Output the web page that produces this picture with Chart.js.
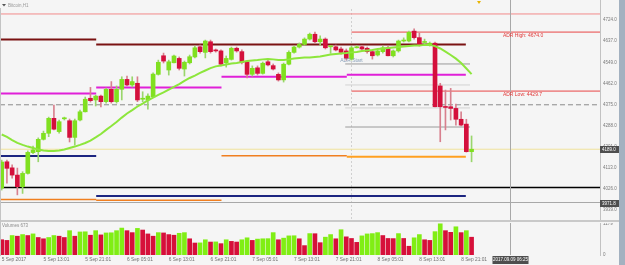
<!DOCTYPE html>
<html>
<head>
<meta charset="utf-8">
<title>Bitcoin,H1</title>
<script src="https://cdn.jsdelivr.net/npm/chart.js@4.4.1/dist/chart.umd.min.js"></script>
<style>
  html, body { margin: 0; padding: 0; background: #f5f5f5; }
  #wrap { position: relative; width: 625px; height: 265px; overflow: hidden; background: #f5f5f5; }
  #main { position: absolute; left: 0; top: 0; }
  #vol { position: absolute; left: 0; top: 223px; }
  #sep { position: absolute; left: 0; top: 220px; width: 619px; height: 2px; background: #c9c9c9; }
  #edge { position: absolute; left: 0; top: 8px; width: 1px; height: 248px; background: #c4c4c4; }
  #scroll { position: absolute; right: 0; top: 0; width: 6px; height: 265px; background: #a3b1c0; }
</style>
</head>
<body>
<div id="wrap">
  <canvas id="main" width="625" height="221"></canvas>
  <div id="sep"></div>
  <canvas id="vol" width="625" height="42"></canvas>
  <div id="edge"></div>
  <div id="scroll"></div>
</div>
<script>
// hourly candles, index 0 = 5 Sep 05:00
const opens = [4028,4137,4112,4082,4034,4089,4175,4179,4230,4255,
  4317,4262,4315,4307,4238,4310,4344,4400,4393,4409,
  4386,4437,4386,4437,4478,4455,4462,4396,4393,4406,
  4499,4576,4517,4547,4565,4521,4547,4571,4613,4590,
  4634,4600,4596,4547,4561,4607,4593,4551,4499,4526,
  4503,4551,4535,4499,4476,4541,4590,4612,4623,4645,
  4665,4634,4645,4613,4613,4604,4596,4562,4609,4613,
  4607,4593,4579,4593,4609,4576,4596,4637,4637,4678,
  4651,4631,4620,4628,4451,4366,4365,4358,4313,4293,
  4179];
const highs = [4144,4144,4124,4111,4096,4182,4202,4236,4264,4322,
  4372,4310,4322,4314,4314,4351,4405,4445,4413,4413,
  4442,4469,4451,4489,4492,4489,4489,4427,4418,4505,
  4558,4587,4558,4579,4571,4554,4579,4616,4620,4641,
  4641,4604,4600,4575,4612,4612,4600,4554,4534,4534,
  4550,4558,4542,4505,4546,4596,4616,4629,4650,4670,
  4674,4658,4650,4618,4620,4612,4604,4616,4618,4618,
  4612,4600,4600,4616,4616,4600,4641,4650,4678,4687,
  4670,4645,4633,4633,4462,4434,4441,4376,4344,4313,
  4244];
const lows = [4020,4049,4069,4000,4006,4086,4171,4137,4227,4241,
  4269,4256,4310,4219,4206,4306,4343,4384,4368,4364,
  4380,4380,4380,4393,4451,4447,4386,4386,4355,4405,
  4496,4546,4496,4546,4517,4492,4542,4567,4587,4567,
  4587,4591,4534,4529,4558,4591,4542,4484,4492,4496,
  4500,4534,4517,4471,4467,4538,4587,4608,4620,4641,
  4629,4620,4604,4586,4596,4583,4558,4558,4608,4600,
  4587,4562,4575,4587,4575,4571,4591,4633,4633,4645,
  4616,4625,4616,4364,4220,4269,4310,4289,4285,4177,
  4137];
const closes = [4136,4110,4082,4034,4089,4176,4186,4230,4255,4317,
  4272,4303,4317,4238,4307,4344,4396,4390,4409,4386,
  4437,4386,4437,4478,4455,4469,4393,4400,4409,4500,
  4549,4554,4551,4575,4524,4549,4572,4609,4593,4637,
  4593,4596,4541,4565,4607,4596,4549,4499,4524,4503,
  4545,4538,4521,4476,4541,4590,4612,4623,4645,4665,
  4634,4645,4609,4615,4600,4590,4565,4609,4613,4604,
  4593,4576,4596,4609,4576,4596,4637,4641,4673,4651,
  4620,4634,4628,4365,4365,4362,4358,4313,4289,4179,
  4189];
const volumes = [578,552,736,711,773,736,798,662,613,662,
  736,711,662,920,711,871,878,748,920,760,
  834,840,920,1018,920,846,1006,944,797,711,
  846,834,772,748,821,846,613,453,458,576,
  490,495,429,576,515,490,576,650,552,601,
  613,618,846,576,637,723,728,613,355,809,
  805,466,674,772,613,956,687,625,478,723,
  797,809,846,736,625,620,809,625,331,650,
  772,576,552,883,1179,920,858,1067,846,920,
  673];
const maLine = [4250,4240,4227,4215,4207,4200,4194,4188,4184,4182,
  4182,4184,4188,4194,4200,4207,4215,4225,4238,4252,
  4269,4285,4302,4320,4337,4351,4366,4378,4391,4403,
  4414,4424,4436,4447,4459,4472,4484,4494,4505,4515,
  4525,4532,4536,4540,4544,4546,4550,4554,4556,4558,
  4561,4563,4561,4558,4558,4561,4565,4567,4569,4569,
  4571,4573,4577,4581,4583,4585,4587,4590,4592,4596,
  4598,4600,4604,4606,4608,4610,4612,4614,4616,4618,
  4618,4621,4621,4616,4606,4593,4579,4564,4546,4523,
  4500];

const timeTicks = [0, 8, 16, 24, 32, 40, 48, 56, 64, 72, 80, 88];
const timeLabels = ['5 Sep 2017', '5 Sep 13:01', '5 Sep 21:01', '6 Sep 05:01', '6 Sep 13:01', '6 Sep 21:01',
  '7 Sep 05:01', '7 Sep 13:01', '7 Sep 21:01', '8 Sep 05:01', '8 Sep 13:01', '8 Sep 21:01'];
const priceTicks = [4724, 4637, 4549, 4462, 4375, 4288, 4201, 4113, 4026, 3939];

// level lines: [from index, to index, price]
const topLine = [[-0.33, 114.6, 4749]];
const pivotTop = [[-0.33, 18.1, 4643], [18.1, 88.9, 4623]];
const pivotMid = [[-0.33, 18.1, 4420], [18.1, 42.1, 4445], [42.1, 66.1, 4489], [66.1, 88.9, 4497]];
const pivotLow = [[-0.33, 18.1, 4161], [18.1, 88.9, 3995]];
const pivotOrange = [[-0.33, 18.1, 3981], [18.1, 42.1, 3978], [42.1, 66.1, 4162]];
const pivotOrangeNow = [[66.1, 88.9, 4158]];
const blackLine = [[-0.33, 114.6, 4031]];
const dashLine = [[-0.33, 114.6, 4373]];
const adrHigh = 4674.0;
const adrLow = 4429.7;
const adrStart = 67;
const adrGray = [[65.8, 89.7, 4542], [65.8, 89.7, 4281]];
const adrLight = [[65.8, 89.7, 4455], [65.8, 89.7, 4360]];

const cursorIdx = 97.4;
const cursorPrice = 3971.8;
const cursorTime = '2017.09.09 06:25';

const lastClose = closes[closes.length - 1];
const xMin = -0.326, xMax = 114.6;

Chart.defaults.animation = false;
Chart.defaults.font.family = '"Liberation Sans", Arial, sans-serif';

const GREEN = '#80e020', RED = '#d4103c';

function levelData(segs) {
  const pts = [];
  segs.forEach(([a, b, p]) => {
    pts.push({x: a, y: p}, {x: b, y: p}, {x: b, y: null});
  });
  return pts;
}
function level(segs, color, width, dash) {
  return {
    type: 'line', data: levelData(segs), borderColor: color, borderWidth: width,
    borderDash: dash || [], pointRadius: 0, spanGaps: false, fill: false, order: 5
  };
}
function noPad(scale) {
  scale.paddingTop = 0; scale.paddingBottom = 0;
  scale.paddingLeft = 0; scale.paddingRight = 0;
}
function tag(ctx, left, yy, text, w) {
  ctx.fillStyle = '#4e4e4e';
  ctx.fillRect(left, Math.round(yy) - 3, w, 7);
  ctx.fillStyle = '#ffffff';
  ctx.font = '4.5px "Liberation Sans"';
  ctx.textAlign = 'left';
  ctx.textBaseline = 'middle';
  ctx.fillText(text, left + 2, Math.round(yy) + 0.5);
}

const up = closes.map((c, i) => c >= opens[i]);

const mainDeco = {
  id: 'mainDeco',
  beforeDatasetsDraw(chart) {
    const {ctx, chartArea: a, scales: {x}} = chart;
    const px = Math.round(x.getPixelForValue(adrStart)) + 0.5;
    ctx.save();
    ctx.strokeStyle = '#d0d0d0';
    ctx.lineWidth = 1;
    ctx.setLineDash([2, 2]);
    ctx.beginPath();
    ctx.moveTo(px, a.top + 9);
    ctx.lineTo(px, a.bottom);
    ctx.stroke();
    ctx.restore();
  },
  afterDatasetsDraw(chart) {
    const {ctx, chartArea: a, scales: {x, y}} = chart;
    ctx.save();
    // crosshair
    const cx = Math.round(x.getPixelForValue(cursorIdx)) + 0.5;
    const cy = Math.round(y.getPixelForValue(cursorPrice)) + 0.5;
    ctx.strokeStyle = '#a8a8a8';
    ctx.lineWidth = 1;
    ctx.beginPath();
    ctx.moveTo(cx, a.top); ctx.lineTo(cx, a.bottom);
    ctx.moveTo(a.left, cy); ctx.lineTo(a.right, cy);
    ctx.stroke();

    // ADR texts
    ctx.font = '5px "Liberation Sans"';
    ctx.textAlign = 'left';
    ctx.textBaseline = 'top';
    ctx.fillStyle = '#e03838';
    ctx.fillText('ADR High: ' + adrHigh.toFixed(1), x.getPixelForValue(96), y.getPixelForValue(adrHigh) + 1);
    ctx.fillText('ADR Low: ' + adrLow.toFixed(1), x.getPixelForValue(96), y.getPixelForValue(adrLow) + 1.5);
    ctx.fillStyle = '#8aa2bb';
    ctx.textAlign = 'center';
    ctx.textBaseline = 'bottom';
    ctx.fillText('ADR Start', x.getPixelForValue(adrStart), y.getPixelForValue(adrGray[0][2]) - 0.5);

    // symbol header
    ctx.fillStyle = '#555';
    ctx.beginPath();
    ctx.moveTo(2, 4); ctx.lineTo(6, 4); ctx.lineTo(4, 6.5); ctx.closePath(); ctx.fill();
    ctx.fillStyle = '#9a9a9a';
    ctx.font = '4.5px "Liberation Sans"';
    ctx.textAlign = 'left';
    ctx.textBaseline = 'middle';
    ctx.fillText('Bitcoin,H1', 8, 5.5);
    ctx.fillStyle = '#e8b400';
    ctx.beginPath();
    ctx.moveTo(477, 1); ctx.lineTo(481, 1); ctx.lineTo(479, 4); ctx.closePath(); ctx.fill();

    // price tags on the axis
    tag(ctx, a.right, y.getPixelForValue(lastClose), lastClose.toFixed(1), 19);
    tag(ctx, a.right, cy, cursorPrice.toFixed(1), 19);
    ctx.restore();
  }
};

new Chart(document.getElementById('main'), {
  type: 'bar',
  data: {
    datasets: [
      {
        type: 'line', data: maLine.map((v, i) => ({x: i, y: v})),
        borderColor: '#8de63c', borderWidth: 2, pointRadius: 0, fill: false, order: 0
      },
      {
        data: opens.map((o, i) => ({x: i, y: [Math.min(o, closes[i]), Math.max(o, closes[i])]})),
        backgroundColor: up.map(u => u ? GREEN : RED),
        barThickness: 4, minBarLength: 1, grouped: false, order: 1
      },
      {
        data: highs.map((h, i) => ({x: i, y: [lows[i], h]})),
        backgroundColor: up.map(u => u ? '#9ad66c' : '#d8808e'),
        barThickness: 1, grouped: false, order: 2
      },
      level(topLine, '#f28a8a', 1),
      level(pivotTop, '#7a1212', 2),
      level(pivotMid, '#e020d8', 2),
      level(pivotLow, '#1c2580', 2),
      level(pivotOrange, '#f07f20', 1.5),
      level(pivotOrangeNow, '#ffa020', 2),
      level(blackLine, '#000000', 1.5),
      level(dashLine, '#8a8a8a', 1, [5, 3]),
      level([[-0.33, 114.6, lastClose]], '#f0e29a', 1),
      level([[adrStart, 114.6, adrHigh]], '#e84545', 1),
      level([[adrStart, 114.6, adrLow]], '#e84545', 1),
      level(adrGray, '#9a9a9a', 1),
      level(adrLight, '#d2d2d2', 1)
    ]
  },
  options: {
    responsive: false,
    devicePixelRatio: 1,
    layout: {padding: 0},
    plugins: {legend: {display: false}, tooltip: {enabled: false}},
    scales: {
      x: {
        type: 'linear', min: xMin, max: xMax, offset: false, display: false,
        afterFit: noPad
      },
      y: {
        position: 'right', min: 3891.9, max: 4806.8,
        grid: {display: false, drawTicks: false},
        border: {display: true, color: '#c2c2c2'},
        ticks: {
          padding: 3, color: '#7a7a7a', font: {size: 4.5},
          callback: v => v.toFixed(1)
        },
        afterBuildTicks: s => { s.ticks = priceTicks.map(v => ({value: v})); },
        afterFit: s => { s.width = 25; noPad(s); }
      }
    }
  },
  plugins: [mainDeco]
});

const volTop = Math.max(...volumes);
const volUp = volumes.map((v, i) => i > 0 && v >= volumes[i - 1]);

const volDeco = {
  id: 'volDeco',
  afterDatasetsDraw(chart) {
    const {ctx, chartArea: a, scales: {x}} = chart;
    ctx.save();
    const cx = Math.round(x.getPixelForValue(cursorIdx)) + 0.5;
    ctx.strokeStyle = '#a8a8a8';
    ctx.lineWidth = 1;
    ctx.beginPath();
    ctx.moveTo(cx, 0); ctx.lineTo(cx, a.bottom);
    ctx.stroke();
    ctx.fillStyle = '#8a8a8a';
    ctx.font = '4.5px "Liberation Sans"';
    ctx.textAlign = 'left';
    ctx.textBaseline = 'top';
    ctx.fillText('Volumes ' + volumes[volumes.length - 1], 2, 0.5);
    // time tag
    ctx.fillStyle = '#4e4e4e';
    ctx.fillRect(cx - 18, a.bottom + 1, 36, 8);
    ctx.fillStyle = '#ffffff';
    ctx.textAlign = 'center';
    ctx.textBaseline = 'middle';
    ctx.fillText(cursorTime, cx, a.bottom + 5);
    ctx.restore();
  }
};

new Chart(document.getElementById('vol'), {
  type: 'bar',
  data: {
    datasets: [{
      data: volumes.map((v, i) => ({x: i, y: v})),
      backgroundColor: volUp.map(u => u ? '#80ee14' : '#d6103a'),
      barThickness: 4, grouped: false
    }]
  },
  options: {
    responsive: false,
    devicePixelRatio: 1,
    layout: {padding: 0},
    plugins: {legend: {display: false}, tooltip: {enabled: false}},
    scales: {
      x: {
        type: 'linear', min: xMin, max: xMax, offset: false,
        grid: {display: false, drawTicks: false},
        border: {display: false},
        ticks: {
          align: 'start', padding: 2, color: '#707070', font: {size: 4.8},
          autoSkip: false, maxRotation: 0, minRotation: 0,
          callback: (v, i) => timeLabels[i]
        },
        afterBuildTicks: s => { s.ticks = timeTicks.map(v => ({value: v})); },
        afterFit: s => { s.height = 10; noPad(s); }
      },
      y: {
        position: 'right', min: 0, max: 1210,
        grid: {display: false, drawTicks: false},
        border: {display: true, color: '#c2c2c2'},
        ticks: {padding: 3, color: '#7a7a7a', font: {size: 4.5}, callback: v => String(v)},
        afterBuildTicks: s => { s.ticks = [0, volTop].map(v => ({value: v})); },
        afterFit: s => { s.width = 25; noPad(s); }
      }
    }
  },
  plugins: [volDeco]
});
</script>
</body>
</html>
